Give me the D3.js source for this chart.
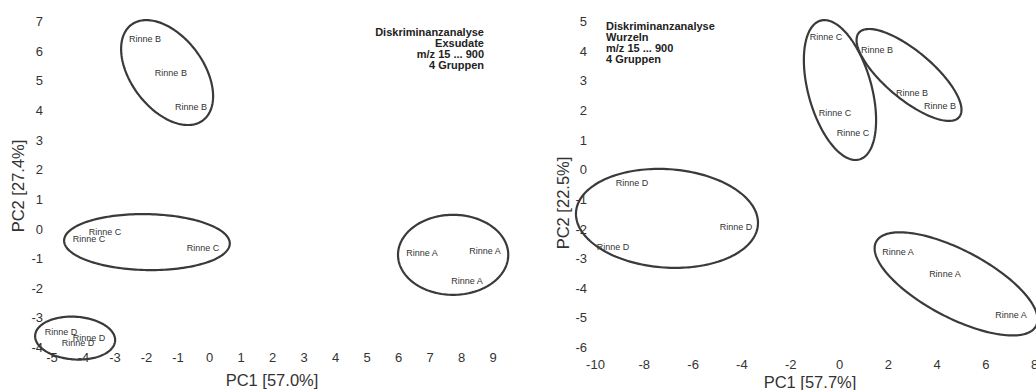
<!DOCTYPE html>
<html>
<head>
<meta charset="utf-8">
<script src="https://cdn.jsdelivr.net/npm/d3@7"></script>
<style>
  body { margin: 0; background: #fff; }
  svg { display: block; }
  text { font-family: "Liberation Sans", Arial, Helvetica, sans-serif; }
</style>
</head>
<body>
<svg id="chart" width="1036" height="390"></svg>
<script>
// ---- Exsudate: discriminant scores (PC1, PC2) per sample ----
const exLabels = ["Rinne A", "Rinne A", "Rinne A", "Rinne B", "Rinne B", "Rinne B",
                  "Rinne C", "Rinne C", "Rinne C", "Rinne D", "Rinne D", "Rinne D"];
const exPC1 = [6.76, 8.76, 8.19, -2.03, -1.21, -0.57, -3.30, -3.81, -0.19, -4.70, -3.81, -4.16];
const exPC2 = [-0.83, -0.76, -1.77, 6.39, 5.25, 4.10, -0.12, -0.36, -0.66, -3.49, -3.70, -3.86];

// Group ellipses (A, B, C, D): centre, spread along each axis, correlation
const exEllCx  = [7.75, -1.33, -1.97, -4.25];
const exEllCy  = [-0.89, 5.26, -0.46, -3.70];
const exEllSx  = [1.75, 1.46, 2.63, 1.27];
const exEllSy  = [1.35, 1.77, 0.945, 0.725];
const exEllRho = [0.0, -0.45, -0.05, -0.09];

const exXTicks = d3.range(-5, 10, 1);
const exYTicks = d3.range(-4, 8, 1);
const exNote = ["Diskriminanzanalyse", "Exsudate", "m/z 15 ... 900", "4 Gruppen"];
const exXTitle = "PC1 [57.0%]";
const exYTitle = "PC2 [27.4%]";

// ---- Wurzeln: discriminant scores (PC1, PC2) per sample ----
const wuLabels = exLabels.slice();
const wuPC1 = [2.42, 4.34, 7.05, 1.56, 2.99, 4.14, -0.53, -0.16, 0.57, -8.48, -4.22, -9.26];
const wuPC2 = [-2.79, -3.54, -4.92, 4.02, 2.57, 2.13, 4.46, 1.90, 1.22, -0.47, -1.95, -2.62];

const wuEllCx  = [4.80, 2.87, 0.04, -7.05];
const wuEllCy  = [-3.87, 3.18, 2.67, -1.66];
const wuEllSx  = [3.34, 2.15, 1.48, 3.73];
const wuEllSy  = [1.74, 1.55, 2.36, 1.67];
const wuEllRho = [-0.69, -0.76, -0.43, -0.09];

const wuXTicks = d3.range(-10, 9, 2);
const wuYTicks = d3.range(-6, 6, 1);
const wuNote = ["Diskriminanzanalyse", "Wurzeln", "m/z 15 ... 900", "4 Gruppen"];
const wuXTitle = "PC1 [57.7%]";
const wuYTitle = "PC2 [22.5%]";

const svg = d3.select("#chart");
const ink = "#333";
// plain hyphen-minus for negative tick values
const tickFmt = d => String(d);

function panel(cfg) {
  const g = svg.append("g");
  const x = d3.scaleLinear().domain(cfg.xDomain).range(cfg.xRange);
  const y = d3.scaleLinear().domain(cfg.yDomain).range(cfg.yRange);

  // axes: labels only, no lines or tick marks
  const xAxis = g.append("g")
    .attr("transform", `translate(0,${cfg.xAxisY})`)
    .call(d3.axisBottom(x).tickValues(cfg.xTicks).tickSize(0).tickPadding(0).tickFormat(tickFmt));
  const yAxis = g.append("g")
    .attr("transform", `translate(${cfg.yAxisX},0)`)
    .call(d3.axisLeft(y).tickValues(cfg.yTicks).tickSize(0).tickPadding(0).tickFormat(tickFmt));
  [xAxis, yAxis].forEach(a => {
    a.select(".domain").remove();
    a.selectAll("text")
      .attr("y", 0).attr("dy", "0.35em")
      .attr("fill", ink)
      .style("font-size", "13px")
      .style("font-family", '"Liberation Sans", Arial, sans-serif');
  });
  yAxis.selectAll("text").attr("x", 0);

  // axis titles
  g.append("text")
    .attr("x", cfg.xTitlePos[0]).attr("y", cfg.xTitlePos[1])
    .attr("text-anchor", "middle").attr("dy", "0.35em")
    .attr("fill", ink).style("font-size", "16.5px")
    .text(cfg.xTitle);
  g.append("text")
    .attr("transform", `translate(${cfg.yTitlePos[0]},${cfg.yTitlePos[1]}) rotate(-90)`)
    .attr("text-anchor", "middle").attr("dy", "0.35em")
    .attr("fill", ink).style("font-size", "16.5px")
    .text(cfg.yTitle);

  // annotation block
  const note = g.append("text")
    .attr("text-anchor", cfg.noteAnchor)
    .attr("fill", "#222")
    .style("font-size", "11px").style("font-weight", "bold");
  cfg.note.forEach((line, i) => {
    note.append("tspan")
      .attr("x", cfg.notePos[0])
      .attr("y", cfg.notePos[1] + i * 11.2)
      .attr("dy", "0.35em")
      .text(line);
  });

  // sample labels
  g.append("g").selectAll("text")
    .data(cfg.labels.map((l, i) => ({ l, px: cfg.pc1[i], py: cfg.pc2[i] })))
    .join("text")
    .attr("x", d => x(d.px)).attr("y", d => y(d.py))
    .attr("text-anchor", "middle").attr("dy", "0.35em")
    .attr("fill", ink).style("font-size", "9px")
    .text(d => d.l);

  // group ellipses
  const line = d3.line().x(p => x(p[0])).y(p => y(p[1])).curve(d3.curveLinearClosed);
  const ts = d3.range(0, 2 * Math.PI, Math.PI / 90);
  cfg.ellCx.forEach((cx, k) => {
    const cy = cfg.ellCy[k], sx = cfg.ellSx[k], sy = cfg.ellSy[k];
    const dphi = Math.acos(cfg.ellRho[k]);
    const pts = ts.map(t => [cx + sx * Math.cos(t), cy + sy * Math.cos(t - dphi)]);
    g.append("path")
      .attr("d", line(pts))
      .attr("fill", "none")
      .attr("stroke", "#3a3a3a")
      .attr("stroke-width", 2.2);
  });
}

panel({
  xDomain: [-5, 9], xRange: [51.5, 492.5],
  yDomain: [-4, 7], yRange: [347, 21],
  xTicks: exXTicks, yTicks: exYTicks,
  xAxisY: 357, yAxisX: 43,
  xTitle: exXTitle, yTitle: exYTitle,
  xTitlePos: [272, 380], yTitlePos: [18, 186],
  note: exNote, noteAnchor: "end", notePos: [484, 32],
  labels: exLabels, pc1: exPC1, pc2: exPC2,
  ellCx: exEllCx, ellCy: exEllCy, ellSx: exEllSx, ellSy: exEllSy, ellRho: exEllRho
});

panel({
  xDomain: [-10, 8], xRange: [595, 1034.2],
  yDomain: [-6, 5], yRange: [347, 21],
  xTicks: wuXTicks, yTicks: wuYTicks,
  xAxisY: 364, yAxisX: 587,
  xTitle: wuXTitle, yTitle: wuYTitle,
  xTitlePos: [810, 382], yTitlePos: [563, 203],
  note: wuNote, noteAnchor: "start", notePos: [606, 26],
  labels: wuLabels, pc1: wuPC1, pc2: wuPC2,
  ellCx: wuEllCx, ellCy: wuEllCy, ellSx: wuEllSx, ellSy: wuEllSy, ellRho: wuEllRho
});
</script>
</body>
</html>
